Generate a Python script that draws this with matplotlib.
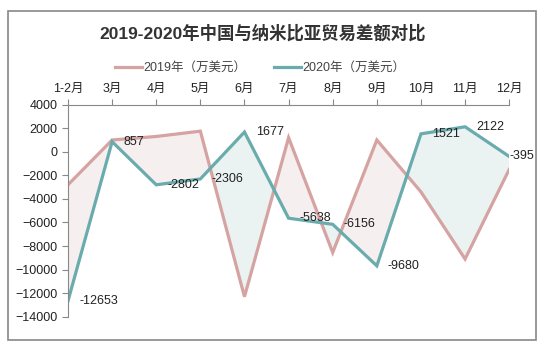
import numpy as np
import matplotlib.pyplot as plt
from matplotlib.patches import Rectangle

plt.rcParams['font.family'] = ['Liberation Sans', 'Noto Sans CJK SC']

months = ["1-2月", "3月", "4月", "5月", "6月", "7月", "8月", "9月", "10月", "11月", "12月"]
v2019 = [-2800, 1000, 1300, 1750, -12300, 1200, -8550, 1000, -3400, -9100, -1500]
v2020 = [-12653, 857, -2802, -2306, 1677, -5638, -6156, -9680, 1521, 2122, -395]
label2019 = "2019年（万美元）"
label2020 = "2020年（万美元）"

c2019 = "#d5a3a1"
c2020 = "#6aacad"

fig = plt.figure(figsize=(5.44, 3.5), dpi=100)
ax = fig.add_axes([0.125, 0.095, 0.811, 0.606])

x = np.arange(len(months))
a = np.array(v2019, dtype=float)
b = np.array(v2020, dtype=float)

ax.fill_between(x, a, b, where=a >= b, interpolate=True, color="#f6efef", lw=0)
ax.fill_between(x, a, b, where=b >= a, interpolate=True, color="#eaf3f2", lw=0)
ax.plot(x, a, color=c2019, lw=2.3, label=label2019, solid_joinstyle="miter")
ax.plot(x, b, color=c2020, lw=2.3, label=label2020, solid_joinstyle="miter")

# labels sit right of each point; the last one is pulled in so it stays inside the frame
for i, v in enumerate(v2020):
    dx = 0 if i == len(v2020) - 1 else 8
    ax.annotate(str(v), (x[i], v), xytext=(dx, 0), textcoords="offset points",
                ha="left", va="center", fontsize=9, color="#222222")

ax.set_xlim(0, len(months) - 1)
ax.set_ylim(-14000, 4000)
ax.set_yticks(range(-14000, 4001, 2000))
ax.set_xticks(x)
ax.set_xticklabels(months)
ax.xaxis.tick_top()
ax.tick_params(axis="both", colors="#888888", labelcolor="#222222", labelsize=9,
               length=4, direction="out")
ax.tick_params(axis="x", pad=3)
for s in ["right", "bottom"]:
    ax.spines[s].set_visible(False)
for s in ["left", "top"]:
    ax.spines[s].set_color("#888888")

fig.text(0.482, 0.905, "2019-2020年中国与纳米比亚贸易差额对比", ha="center", va="center",
         fontsize=12.5, fontweight="bold", color="#333333")
fig.legend(loc="center", bbox_to_anchor=(0.478, 0.805), ncol=2, frameon=False,
           fontsize=9, handlelength=2.2, handletextpad=0.1, columnspacing=2.2,
           labelcolor="#444444")

fig.add_artist(Rectangle((0.015, 0.03), 0.97, 0.94, transform=fig.transFigure,
                         fill=False, edgecolor="#888888", lw=1.2))

fig.savefig("out.png", dpi=100)
